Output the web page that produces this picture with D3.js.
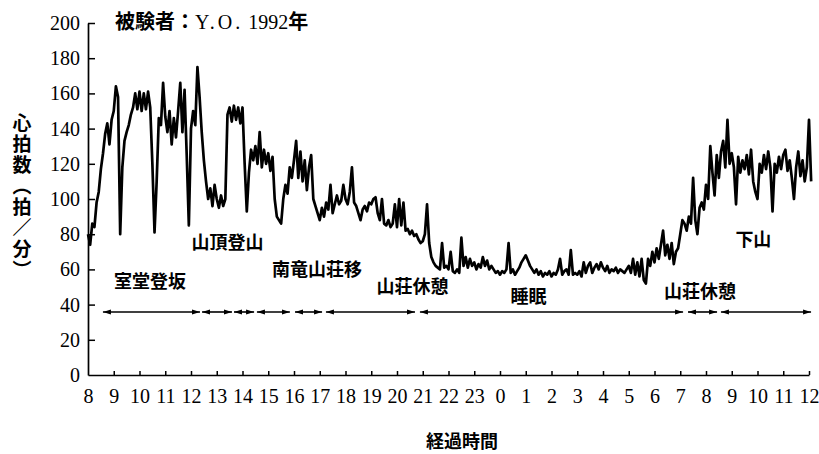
<!DOCTYPE html>
<html>
<head>
<meta charset="utf-8">
<script src="https://cdn.jsdelivr.net/npm/d3@7"></script>
<style>
  body { margin: 0; background: #fff; }
  svg { display: block; }
  .num { font-family: "Liberation Serif", "DejaVu Serif", serif; }
  .jp { font-family: "Noto Sans CJK JP", sans-serif; font-weight: 700; }
  .vertical { writing-mode: vertical-rl; }
</style>
</head>
<body>
<svg id="chart" width="819" height="454"></svg>
<script>
// Heart-rate record, 8:00 day 1 to 12:00 day 2, one reading every 5 minutes.
const stepMinutes = 5;
const hourLabels = [8, 9, 10, 11, 12, 13, 14, 15, 16, 17, 18, 19, 20, 21, 22, 23,
                    0, 1, 2, 3, 4, 5, 6, 7, 8, 9, 10, 11, 12];
const bpmTicks = [0, 20, 40, 60, 80, 100, 120, 140, 160, 180, 200];

const bpm = [
  // 8:00
  80, 74, 86, 84, 98, 104, 117, 126, 137, 143, 131, 145,
  // 9:00
  150, 164, 158, 80, 118, 133, 138, 142, 148, 152, 160, 151,
  // 10:00
  161, 150, 160, 151, 161, 152, 120, 81, 110, 146, 142, 166,
  // 11:00
  147, 138, 150, 131, 146, 135, 150, 166, 138, 162, 125, 85,
  // 12:00
  140, 150, 142, 175, 158, 138, 122, 110, 100, 106, 96, 108,
  // 13:00
  100, 95, 102, 96, 100, 148, 152, 144, 153, 145, 152, 143,
  // 14:00
  152, 120, 93, 115, 128, 122, 130, 120, 138, 118, 128, 120,
  // 15:00
  126, 116, 124, 100, 90, 88, 86, 100, 108, 103, 118, 112,
  // 16:00
  122, 133, 112, 127, 110, 122, 105, 118, 125, 100, 96, 92,
  // 17:00
  88, 95, 90, 98, 94, 108, 92, 97, 102, 97, 99, 108,
  // 18:00
  100, 97, 104, 118, 98, 96, 92, 88, 94, 96, 93, 98,
  // 19:00
  97, 100, 101, 92, 88, 100, 86, 85, 88, 84, 86, 97,
  // 20:00
  84, 100, 85, 98, 82, 83, 80, 82, 79, 80, 77, 75,
  // 21:00
  76, 80, 97, 75, 67, 64, 62, 61, 60, 75, 61, 62,
  // 22:00
  60, 70, 59, 58, 60, 58, 78, 62, 67, 61, 66, 62,
  // 23:00
  64, 60, 63, 61, 67, 62, 65, 60, 62, 60, 58, 59,
  // 0:00
  57, 59, 58, 60, 75, 58, 60, 57, 59, 61, 64, 66,
  // 1:00
  68, 65, 62, 60, 58, 60, 57, 59, 56, 58, 57, 59,
  // 2:00
  56, 58, 57, 60, 66, 57, 59, 60, 57, 71, 57, 58,
  // 3:00
  57, 59, 56, 64, 58, 62, 64, 58, 61, 63, 60, 64,
  // 4:00
  61, 59, 62, 58, 60, 59, 61, 58, 60, 59, 58, 60,
  // 5:00
  62, 58, 66, 57, 64, 56, 66, 54, 52, 66, 62, 70,
  // 6:00
  64, 72, 66, 74, 82, 68, 74, 66, 75, 63, 70, 72,
  // 7:00
  80, 88, 86, 82, 90, 86, 112, 88, 80, 95, 98, 94,
  // 8:00
  108, 100, 130, 115, 102, 125, 112, 127, 133, 118, 145, 120,
  // 9:00
  126, 118, 97, 124, 115, 122, 117, 125, 114, 128, 110, 104,
  // 10:00
  100, 120, 115, 125, 117, 127, 118, 93, 120, 115, 124, 117,
  // 11:00
  125, 128, 116, 122, 112, 100, 118, 127, 113, 122, 110, 118,
  // 12:00
  145, 110
];

// Activity spans, in hours elapsed since 8:00.
const phaseSpans = [
  [0.58, 4.35], [4.43, 5.59], [5.67, 6.45], [6.56, 7.84], [8.04, 9.09],
  [9.24, 12.70], [12.89, 23.11], [23.30, 24.43], [24.58, 28.08]
];
const phaseNames = ["室堂登坂", "山頂登山", "南竜山荘移", "山荘休憩", "睡眠", "山荘休憩", "下山"];
// Where each activity name sits: [hours elapsed, bpm level]
const phaseNameAt = [
  [2.41, 54.0], [5.42, 76.1], [8.89, 60.8], [12.60, 51.1],
  [17.11, 45.5], [23.77, 48.3], [25.84, 77.8]
];
const arrowLevel = 35.8;

const svg = d3.select("#chart");
const x = d3.scaleLinear().domain([0, 28]).range([88, 809]);
const y = d3.scaleLinear().domain([0, 200]).range([375, 23]);

// Axes
const yAxis = d3.axisLeft(y).tickValues(bpmTicks).tickSize(-7).tickSizeOuter(0).tickPadding(8);
const xAxis = d3.axisBottom(x).tickValues(d3.range(0, 29))
  .tickFormat(i => hourLabels[i]).tickSize(-4).tickSizeOuter(0).tickPadding(14);

const gy = svg.append("g").attr("transform", `translate(${x(0)},0)`).call(yAxis);
const gx = svg.append("g").attr("transform", `translate(0,${y(0)})`).call(xAxis);
[gx, gy].forEach(g => {
  g.select(".domain").attr("stroke", "#000").attr("stroke-width", 1.7);
  g.selectAll(".tick line").attr("stroke", "#000").attr("stroke-width", 1.5);
  g.selectAll(".tick text").attr("class", "num").attr("fill", "#000")
    .attr("font-size", 20);
});
gy.selectAll(".tick line").filter(d => d === 0).remove();
gx.selectAll(".tick line").filter(d => d === 0).remove();

// Heart-rate trace
const line = d3.line()
  .x((d, i) => x(i * stepMinutes / 60))
  .y(d => y(d));
svg.append("path")
  .datum(bpm)
  .attr("d", line)
  .attr("fill", "none")
  .attr("stroke", "#000")
  .attr("stroke-width", 2.7)
  .attr("stroke-linejoin", "round");

// Double-headed arrows for each activity span
const defs = svg.append("defs");
defs.append("marker")
  .attr("id", "head")
  .attr("viewBox", "0 0 8 6")
  .attr("refX", 8).attr("refY", 3)
  .attr("markerWidth", 8).attr("markerHeight", 6)
  .attr("markerUnits", "userSpaceOnUse")
  .attr("orient", "auto-start-reverse")
  .append("path").attr("d", "M0,0.4 L8,3 L0,5.6 Z").attr("fill", "#000");

svg.append("g").selectAll("line")
  .data(phaseSpans)
  .join("line")
  .attr("x1", d => x(d[0])).attr("x2", d => x(d[1]))
  .attr("y1", y(arrowLevel)).attr("y2", y(arrowLevel))
  .attr("stroke", "#000").attr("stroke-width", 1.6)
  .attr("marker-start", "url(#head)")
  .attr("marker-end", "url(#head)");

svg.append("g").selectAll("text")
  .data(phaseNames)
  .join("text")
  .attr("class", "jp")
  .attr("x", (d, i) => x(phaseNameAt[i][0]))
  .attr("y", (d, i) => y(phaseNameAt[i][1]))
  .attr("text-anchor", "middle")
  .attr("dominant-baseline", "central")
  .attr("font-size", 18)
  .text(d => d);

// Title
const title = svg.append("text").attr("x", 115).attr("y", 29).attr("font-size", 20);
title.append("tspan").attr("class", "jp").text("被験者：");
title.append("tspan").attr("class", "num").attr("font-size", 20)
  .attr("letter-spacing", 3).text("Y.O.");
title.append("tspan").attr("class", "num").attr("font-size", 20).text(" 1992");
title.append("tspan").attr("class", "jp").text("年");

// Y-axis title, set vertically
svg.append("text")
  .attr("class", "jp vertical")
  .attr("x", 22).attr("y", 113)
  .attr("font-size", 19)
  .attr("letter-spacing", 2)
  .text("心拍数（拍／分）");

// X-axis title
svg.append("text")
  .attr("class", "jp")
  .attr("x", 462).attr("y", 440)
  .attr("text-anchor", "middle")
  .attr("dominant-baseline", "central")
  .attr("font-size", 18)
  .text("経過時間");
</script>
</body>
</html>
